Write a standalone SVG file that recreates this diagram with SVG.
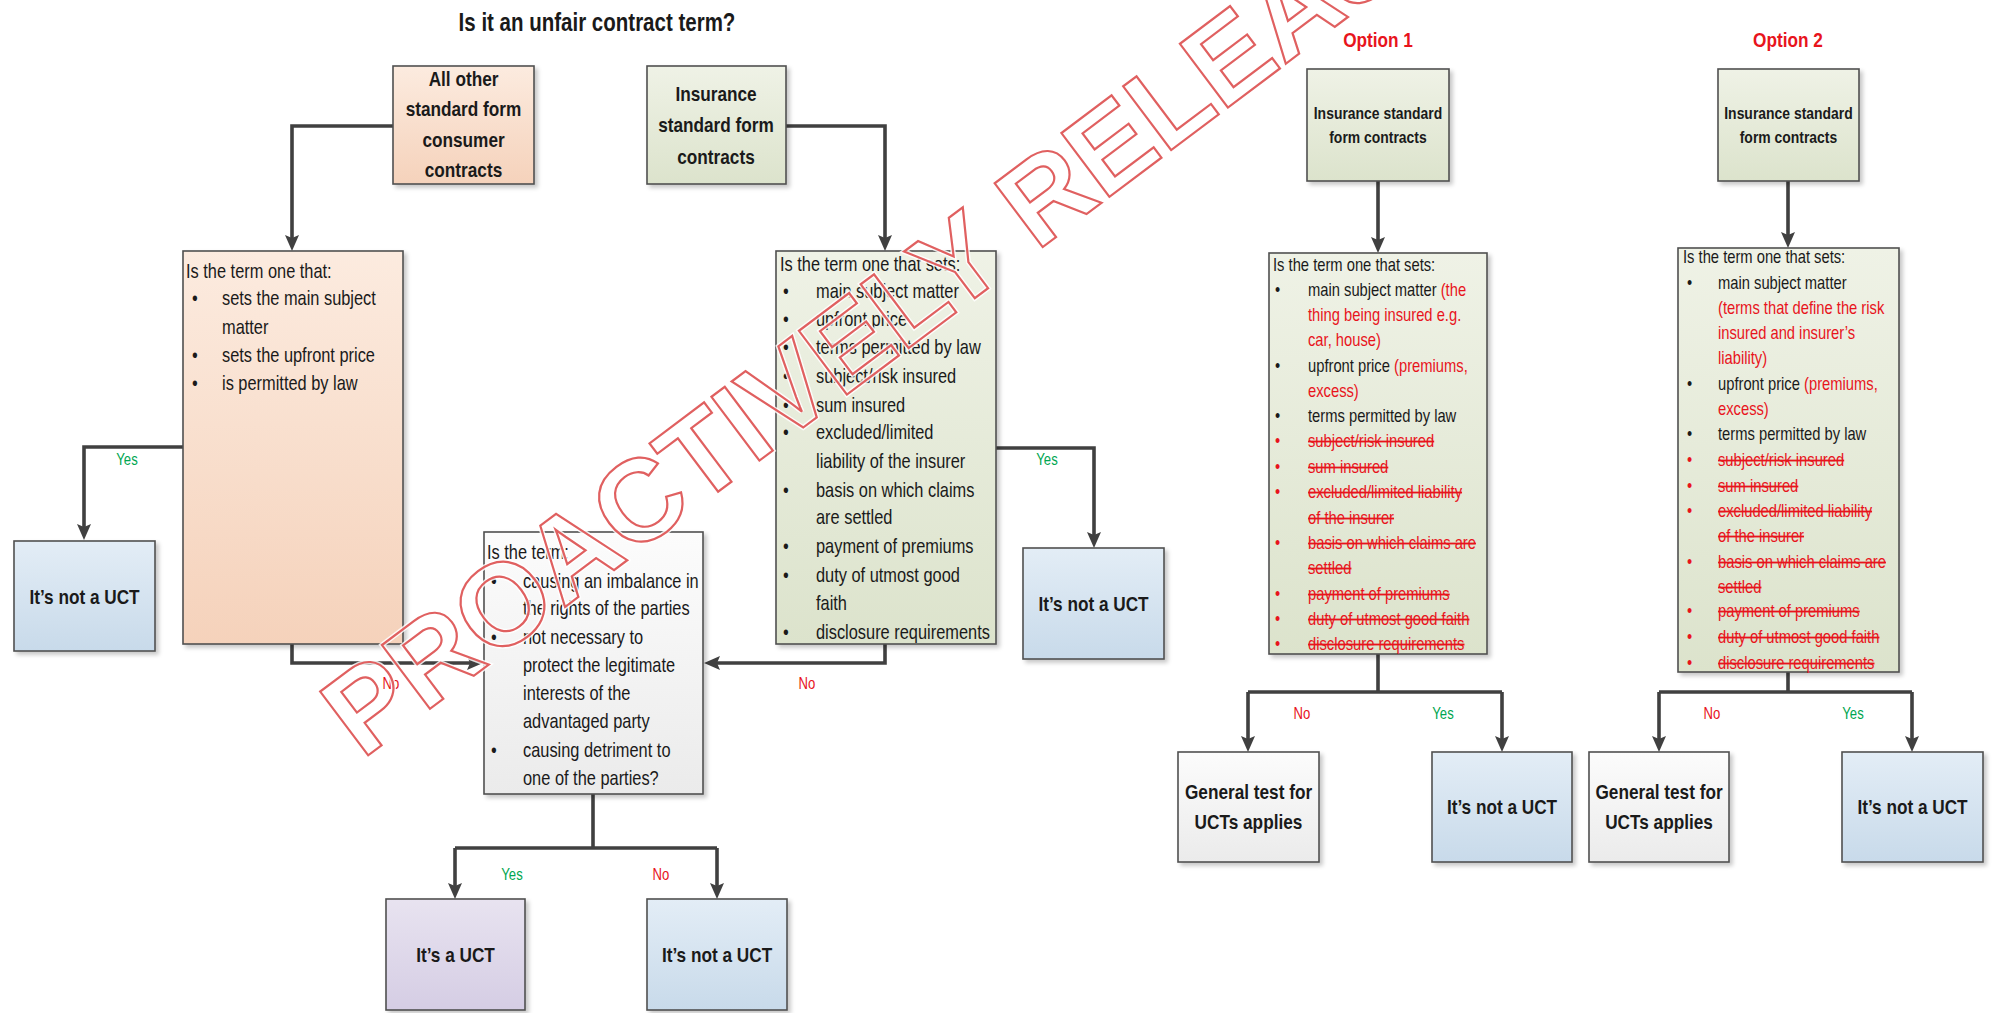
<svg xmlns="http://www.w3.org/2000/svg" width="1995" height="1013" viewBox="0 0 1995 1013">
<style>
text{font-family:'Liberation Sans Narrow','Arial Narrow','Liberation Sans',sans-serif;fill:#1a1a1a;transform-box:fill-box;transform-origin:0 50%;transform:scaleX(0.82)}
.t{font-size:20px}
.s{font-size:18px}
.b{font-weight:bold;text-anchor:middle;transform-origin:50% 50%}
.b21{font-size:21px}
.b17{font-size:17px}
.title{font-size:25px;font-weight:bold;text-anchor:middle;transform-origin:50% 50%}
.opt{font-size:21px;font-weight:bold;text-anchor:middle;fill:#e8141c;transform-origin:50% 50%}
.red{fill:#e8141c}
.st{fill:#e8141c;text-decoration:line-through}
.yes{font-size:16px;fill:#00a651;text-anchor:middle;transform-origin:50% 50%}
.no{font-size:16px;fill:#e8141c;text-anchor:middle;transform-origin:50% 50%}
.box{stroke:#505050;stroke-width:1.6;filter:url(#sh)}
.peach{fill:url(#gPeach)}
.green{fill:url(#gGreen)}
.blue{fill:url(#gBlue)}
.lav{fill:url(#gLav)}
.wht{fill:url(#gWht)}
.c{fill:none;stroke:#404040;stroke-width:3.6}
.a{marker-end:url(#arr)}
.wm{font-family:'Liberation Sans',Arial,sans-serif;font-size:116px;font-weight:bold;fill:none;transform:none}
</style>
<defs>
<linearGradient id="gPeach" x1="0" y1="0" x2="0" y2="1"><stop offset="0" stop-color="#fcebdf"/><stop offset="1" stop-color="#f5d2bb"/></linearGradient>
<linearGradient id="gGreen" x1="0" y1="0" x2="0" y2="1"><stop offset="0" stop-color="#eff2e6"/><stop offset="1" stop-color="#dce3cc"/></linearGradient>
<linearGradient id="gBlue" x1="0" y1="0" x2="0" y2="1"><stop offset="0" stop-color="#e3edf6"/><stop offset="1" stop-color="#c8daea"/></linearGradient>
<linearGradient id="gLav" x1="0" y1="0" x2="0" y2="1"><stop offset="0" stop-color="#e8e3f0"/><stop offset="1" stop-color="#d5cde4"/></linearGradient>
<linearGradient id="gWht" x1="0" y1="0" x2="0" y2="1"><stop offset="0" stop-color="#fcfcfc"/><stop offset="1" stop-color="#ebebeb"/></linearGradient>
<filter id="sh" x="-10%" y="-10%" width="125%" height="125%"><feDropShadow dx="3" dy="3" stdDeviation="2" flood-color="#000" flood-opacity="0.22"/></filter>
<marker id="arr" markerUnits="userSpaceOnUse" viewBox="0 0 16 14" markerWidth="16" markerHeight="14" refX="4" refY="7" orient="auto"><path d="M0,0 L16,7 L0,14 L3,7 z" fill="#404040"/></marker>
</defs>
<rect width="1995" height="1013" fill="#fff"/>

<text class="title" x="597" y="31">Is it an unfair contract term?</text>
<text class="opt" x="1378" y="47">Option 1</text>
<text class="opt" x="1788" y="47">Option 2</text>

<g id="connectors">
<path class="c a" d="M393,126 H292 V239"/>
<path class="c a" d="M786,126 H885 V239"/>
<path class="c a" d="M183,447 H84 V528"/>
<path class="c a" d="M292,644 V663 H471"/>
<path class="c a" d="M885,644 V663 H716"/>
<path class="c a" d="M996,448 H1094 V536"/>
<path class="c" d="M593,794 V848 M455,848 H717"/>
<path class="c a" d="M455,848 V887"/>
<path class="c a" d="M717,848 V887"/>
<path class="c a" d="M1378,181 V241"/>
<path class="c" d="M1378,654 V692 M1248,692 H1502"/>
<path class="c a" d="M1248,692 V740"/>
<path class="c a" d="M1502,692 V740"/>
<path class="c a" d="M1788,181 V236"/>
<path class="c" d="M1788,672 V692 M1659,692 H1912"/>
<path class="c a" d="M1659,692 V740"/>
<path class="c a" d="M1912,692 V740"/>
<text class="yes" x="127" y="465">Yes</text>
<text class="no" x="391" y="689">No</text>
<text class="no" x="807" y="689">No</text>
<text class="yes" x="1047" y="465">Yes</text>
<text class="yes" x="512" y="880">Yes</text>
<text class="no" x="661" y="880">No</text>
<text class="no" x="1302" y="719">No</text>
<text class="yes" x="1443" y="719">Yes</text>
<text class="no" x="1712" y="719">No</text>
<text class="yes" x="1853" y="719">Yes</text>
</g>

<g id="other-contracts">
<rect class="box peach" x="393" y="66" width="141" height="118"/>
<text class="b b21" x="463.5" y="86">All other</text>
<text class="b b21" x="463.5" y="116">standard form</text>
<text class="b b21" x="463.5" y="147">consumer</text>
<text class="b b21" x="463.5" y="177">contracts</text>
</g>

<g id="insurance-contracts">
<rect class="box green" x="647" y="66" width="139" height="118"/>
<text class="b b21" x="716" y="101">Insurance</text>
<text class="b b21" x="716" y="132">standard form</text>
<text class="b b21" x="716" y="164">contracts</text>
</g>

<g id="q-other">
<rect class="box peach" x="183" y="251" width="220" height="393"/>
<text class="t" x="186" y="278">Is the term one that:</text>
<text class="t" x="192" y="305">•</text><text class="t" x="222" y="305">sets the main subject</text>
<text class="t" x="222" y="334">matter</text>
<text class="t" x="192" y="362">•</text><text class="t" x="222" y="362">sets the upfront price</text>
<text class="t" x="192" y="390">•</text><text class="t" x="222" y="390">is permitted by law</text>
</g>

<g id="q-insurance">
<rect class="box green" x="776" y="251" width="220" height="393"/>
<text class="t" x="780" y="271">Is the term one that sets:</text>
<text class="t" x="783" y="298">•</text><text class="t" x="816" y="298">main subject matter</text>
<text class="t" x="783" y="326">•</text><text class="t" x="816" y="326">upfront price</text>
<text class="t" x="783" y="354">•</text><text class="t" x="816" y="354">terms permitted by law</text>
<text class="t" x="783" y="383">•</text><text class="t" x="816" y="383">subject/risk insured</text>
<text class="t" x="783" y="412">•</text><text class="t" x="816" y="412">sum insured</text>
<text class="t" x="783" y="439">•</text><text class="t" x="816" y="439">excluded/limited</text>
<text class="t" x="816" y="468">liability of the insurer</text>
<text class="t" x="783" y="497">•</text><text class="t" x="816" y="497">basis on which claims</text>
<text class="t" x="816" y="524">are settled</text>
<text class="t" x="783" y="553">•</text><text class="t" x="816" y="553">payment of premiums</text>
<text class="t" x="783" y="582">•</text><text class="t" x="816" y="582">duty of utmost good</text>
<text class="t" x="816" y="610">faith</text>
<text class="t" x="783" y="639">•</text><text class="t" x="816" y="639">disclosure requirements</text>
</g>

<g id="not-uct-left">
<rect class="box blue" x="14" y="541" width="141" height="110"/>
<text class="b b21" x="84.5" y="604">It’s not a UCT</text>
</g>

<g id="not-uct-mid">
<rect class="box blue" x="1023" y="548" width="141" height="111"/>
<text class="b b21" x="1093.5" y="611">It’s not a UCT</text>
</g>

<g id="q-general">
<rect class="box wht" x="484" y="532" width="219" height="262"/>
<text class="t" x="487" y="559">Is the term:</text>
<text class="t" x="491" y="588">•</text><text class="t" x="523" y="588">causing an imbalance in</text>
<text class="t" x="523" y="615">the rights of the parties</text>
<text class="t" x="491" y="644">•</text><text class="t" x="523" y="644">not necessary to</text>
<text class="t" x="523" y="672">protect the legitimate</text>
<text class="t" x="523" y="700">interests of the</text>
<text class="t" x="523" y="728">advantaged party</text>
<text class="t" x="491" y="757">•</text><text class="t" x="523" y="757">causing detriment to</text>
<text class="t" x="523" y="785">one of the parties?</text>
</g>

<g id="uct">
<rect class="box lav" x="386" y="899" width="139" height="111"/>
<text class="b b21" x="455.5" y="962">It’s a UCT</text>
</g>

<g id="not-uct-bottom">
<rect class="box blue" x="647" y="899" width="140" height="111"/>
<text class="b b21" x="717" y="962">It’s not a UCT</text>
</g>

<g id="opt1-contracts">
<rect class="box green" x="1307" y="69" width="142" height="112"/>
<text class="b b17" x="1378" y="119">Insurance standard</text>
<text class="b b17" x="1378" y="143">form contracts</text>
</g>

<g id="opt1-question">
<rect class="box green" x="1269" y="253" width="218" height="401"/>
<text class="s" x="1273" y="271">Is the term one that sets:</text>
<text class="s" x="1275" y="296">•</text><text class="s" x="1308" y="296">main subject matter <tspan class="red">(the</tspan></text>
<text class="s red" x="1308" y="321">thing being insured e.g.</text>
<text class="s red" x="1308" y="346">car, house)</text>
<text class="s" x="1275" y="372">•</text><text class="s" x="1308" y="372">upfront price <tspan class="red">(premiums,</tspan></text>
<text class="s red" x="1308" y="397">excess)</text>
<text class="s" x="1275" y="422">•</text><text class="s" x="1308" y="422">terms permitted by law</text>
<text class="s red" x="1275" y="447">•</text><text class="s st" x="1308" y="447">subject/risk insured</text>
<text class="s red" x="1275" y="473">•</text><text class="s st" x="1308" y="473">sum insured</text>
<text class="s red" x="1275" y="498">•</text><text class="s st" x="1308" y="498">excluded/limited liability</text>
<text class="s st" x="1308" y="524">of the insurer</text>
<text class="s red" x="1275" y="549">•</text><text class="s st" x="1308" y="549">basis on which claims are</text>
<text class="s st" x="1308" y="574">settled</text>
<text class="s red" x="1275" y="600">•</text><text class="s st" x="1308" y="600">payment of premiums</text>
<text class="s red" x="1275" y="625">•</text><text class="s st" x="1308" y="625">duty of utmost good faith</text>
<text class="s red" x="1275" y="650">•</text><text class="s st" x="1308" y="650">disclosure requirements</text>
</g>

<g id="opt1-general">
<rect class="box wht" x="1178" y="752" width="141" height="110"/>
<text class="b b21" x="1248.5" y="799">General test for</text>
<text class="b b21" x="1248.5" y="829">UCTs applies</text>
</g>

<g id="opt1-not-uct">
<rect class="box blue" x="1432" y="752" width="140" height="110"/>
<text class="b b21" x="1502" y="814">It’s not a UCT</text>
</g>

<g id="opt2-contracts">
<rect class="box green" x="1718" y="69" width="141" height="112"/>
<text class="b b17" x="1788.5" y="119">Insurance standard</text>
<text class="b b17" x="1788.5" y="143">form contracts</text>
</g>

<g id="opt2-question">
<rect class="box green" x="1678" y="248" width="221" height="424"/>
<text class="s" x="1683" y="263">Is the term one that sets:</text>
<text class="s" x="1687" y="289">•</text><text class="s" x="1718" y="289">main subject matter</text>
<text class="s red" x="1718" y="314">(terms that define the risk</text>
<text class="s red" x="1718" y="339">insured and insurer’s</text>
<text class="s red" x="1718" y="364">liability)</text>
<text class="s" x="1687" y="390">•</text><text class="s" x="1718" y="390">upfront price <tspan class="red">(premiums,</tspan></text>
<text class="s red" x="1718" y="415">excess)</text>
<text class="s" x="1687" y="440">•</text><text class="s" x="1718" y="440">terms permitted by law</text>
<text class="s red" x="1687" y="466">•</text><text class="s st" x="1718" y="466">subject/risk insured</text>
<text class="s red" x="1687" y="492">•</text><text class="s st" x="1718" y="492">sum insured</text>
<text class="s red" x="1687" y="517">•</text><text class="s st" x="1718" y="517">excluded/limited liability</text>
<text class="s st" x="1718" y="542">of the insurer</text>
<text class="s red" x="1687" y="568">•</text><text class="s st" x="1718" y="568">basis on which claims are</text>
<text class="s st" x="1718" y="593">settled</text>
<text class="s red" x="1687" y="617">•</text><text class="s st" x="1718" y="617">payment of premiums</text>
<text class="s red" x="1687" y="643">•</text><text class="s st" x="1718" y="643">duty of utmost good faith</text>
<text class="s red" x="1687" y="669">•</text><text class="s st" x="1718" y="669">disclosure requirements</text>
</g>

<g id="opt2-general">
<rect class="box wht" x="1589" y="752" width="140" height="110"/>
<text class="b b21" x="1659" y="799">General test for</text>
<text class="b b21" x="1659" y="829">UCTs applies</text>
</g>

<g id="opt2-not-uct">
<rect class="box blue" x="1842" y="752" width="141" height="110"/>
<text class="b b21" x="1912.5" y="814">It’s not a UCT</text>
</g>

<g id="watermark" transform="translate(362,760) rotate(-37)">
<text class="wm" x="0" y="0" stroke="#ffffff" stroke-width="5" stroke-opacity="0.85">PROACTIVELY RELEASED</text>
<text class="wm" x="0" y="0" stroke="#e06060" stroke-width="2.2">PROACTIVELY RELEASED</text>
</g>
</svg>
